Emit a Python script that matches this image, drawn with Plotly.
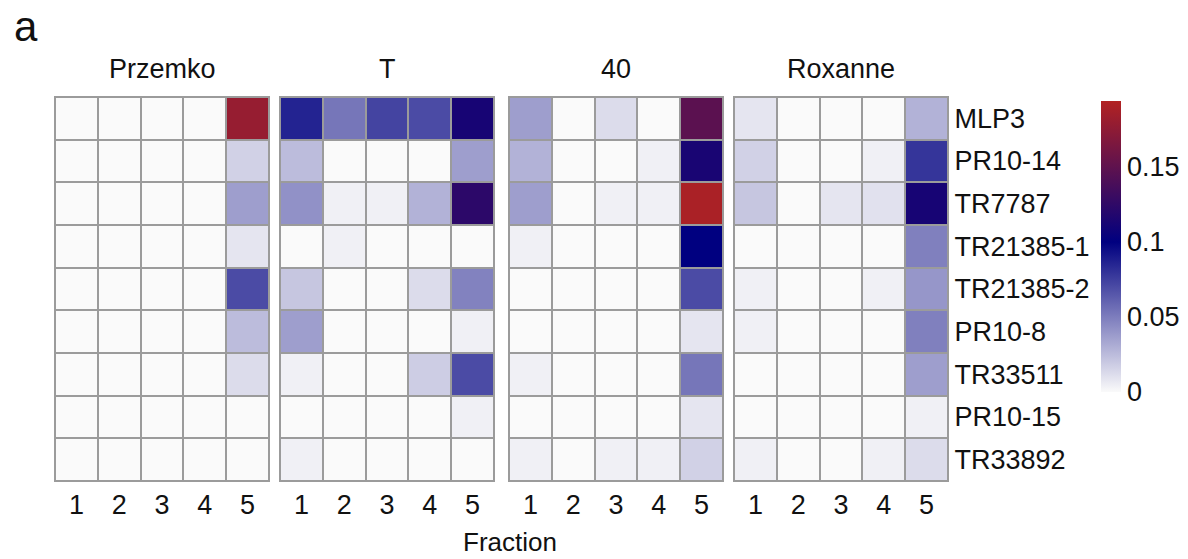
import plotly.graph_objects as go

genes = ["MLP3", "PR10-14", "TR7787", "TR21385-1", "TR21385-2",
         "PR10-8", "TR33511", "PR10-15", "TR33892"]
fractions = [1, 2, 3, 4, 5]
cultivars = ["Przemko", "T", "40", "Roxanne"]

# rows follow genes, columns follow fractions 1..5
przemko = [
    [0, 0, 0, 0, 0.179],
    [0, 0, 0, 0, 0.0165],
    [0, 0, 0, 0, 0.037],
    [0, 0, 0, 0, 0.0085],
    [0, 0, 0, 0, 0.070],
    [0, 0, 0, 0, 0.025],
    [0, 0, 0, 0, 0.012],
    [0, 0, 0, 0, 0],
    [0, 0, 0, 0, 0],
]
t_line = [
    [0.086, 0.053, 0.073, 0.070, 0.112],
    [0.025, 0, 0, 0, 0.037],
    [0.042, 0.004, 0.004, 0.029, 0.123],
    [0, 0.004, 0, 0, 0],
    [0.021, 0, 0, 0.012, 0.048],
    [0.037, 0, 0, 0, 0.004],
    [0.004, 0, 0, 0.018, 0.070],
    [0, 0, 0, 0, 0.004],
    [0.004, 0, 0, 0, 0],
]
line_40 = [
    [0.037, 0, 0.012, 0, 0.148],
    [0.029, 0, 0, 0.004, 0.113],
    [0.037, 0, 0.004, 0.004, 0.190],
    [0.004, 0, 0, 0, 0.100],
    [0, 0, 0, 0, 0.070],
    [0, 0, 0, 0, 0.0085],
    [0.004, 0, 0, 0, 0.053],
    [0, 0, 0, 0, 0.0085],
    [0.004, 0, 0.004, 0.004, 0.0165],
]
roxanne = [
    [0.0085, 0, 0, 0, 0.029],
    [0.0165, 0, 0, 0.004, 0.079],
    [0.021, 0, 0.0085, 0.010, 0.112],
    [0, 0, 0, 0, 0.049],
    [0.004, 0, 0, 0.004, 0.040],
    [0.004, 0, 0, 0, 0.049],
    [0, 0, 0, 0, 0.037],
    [0, 0, 0, 0, 0.004],
    [0.004, 0, 0, 0.004, 0.012],
]
panels = [przemko, t_line, line_40, roxanne]

color_ticks = [0, 0.05, 0.1, 0.15]
zmax = 0.194
colorscale = [[0, "#fafafa"], [0.1 / zmax, "#000080"], [1, "#b22222"]]

W, H = 1188, 559
FONT = "Liberation Sans, Arial, sans-serif"
FS = 27
grid = "#9b9b9b"

# panel extents in pixels
px_left = [55, 280, 509, 734]
px_width = 214
top_px, bottom_px = 97, 481

fig = go.Figure()
for i, (name, z) in enumerate(zip(cultivars, panels)):
    n = "" if i == 0 else str(i + 1)
    fig.add_trace(go.Heatmap(
        z=z, x=fractions, y=genes,
        xaxis="x" + n, yaxis="y" + n,
        colorscale=colorscale, zmin=0, zmax=zmax,
        xgap=2, ygap=2,
        showscale=(i == 3),
        colorbar=dict(
            thickness=20, lenmode="pixels", len=291,
            x=1101 / W, xanchor="left", xpad=0,
            y=1 - 246.5 / H, yanchor="middle", ypad=0,
            outlinewidth=0, tickvals=color_ticks,
            ticktext=["0", "0.05", "0.1", "0.15"],
            tickfont=dict(size=FS, family=FONT, color="#111"),
            ticks="",
        ),
        hovertemplate=name + "<br>Fraction %{x}<br>%{y}: %{z}<extra></extra>",
    ))
    x0 = px_left[i] / W
    x1 = (px_left[i] + px_width) / W
    fig.layout["xaxis" + n] = dict(
        domain=[x0, x1], anchor="y" + n,
        tickvals=fractions, ticks="", showgrid=False, zeroline=False,
        tickfont=dict(size=FS, family=FONT, color="#111"),
        showline=True, linecolor=grid, linewidth=1, mirror=True,
        range=[0.5, 5.5], fixedrange=True,
    )
    fig.layout["yaxis" + n] = dict(
        domain=[1 - bottom_px / H, 1 - top_px / H], anchor="x" + n,
        autorange="reversed", showgrid=False, zeroline=False, ticks="",
        showticklabels=(i == 3), side="right",
        tickfont=dict(size=FS, family=FONT, color="#111"),
        showline=True, linecolor=grid, linewidth=1, mirror=True,
        fixedrange=True,
    )
    fig.add_annotation(
        text=name, x=(x0 + x1) / 2, y=1 - 69 / H,
        xref="paper", yref="paper", showarrow=False,
        font=dict(size=FS, family=FONT, color="#111"),
        xanchor="center", yanchor="middle",
    )

fig.add_annotation(
    text="Fraction", x=510 / W, y=1 - 542 / H, xref="paper", yref="paper",
    showarrow=False, font=dict(size=26, family=FONT, color="#111"),
    xanchor="center", yanchor="middle",
)
fig.add_annotation(
    text="a", x=12 / W, y=1 - 27 / H, xref="paper", yref="paper",
    showarrow=False, font=dict(size=42, family=FONT, color="#111"),
    xanchor="left", yanchor="middle",
)

fig.update_layout(
    width=W, height=H, margin=dict(l=0, r=0, t=0, b=0),
    paper_bgcolor="white", plot_bgcolor=grid,
    showlegend=False,
)

fig.write_html("out.html")
